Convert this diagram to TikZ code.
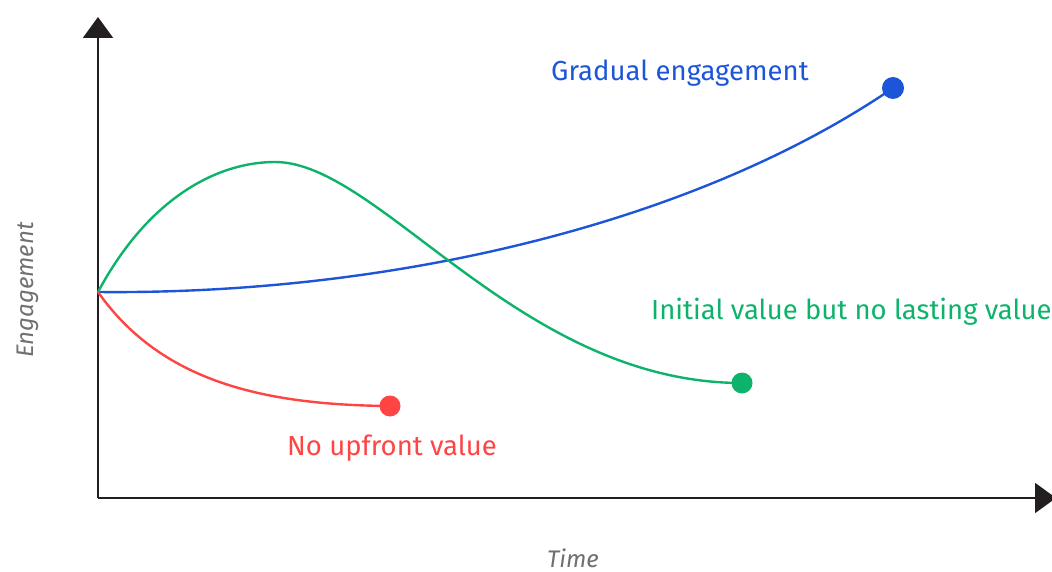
\documentclass[tikz,border=0pt]{standalone}
\usepackage{fontspec}
\setmainfont{Fira Sans}
\usetikzlibrary{arrows.meta}
\definecolor{axisc}{HTML}{231F20}
\definecolor{bluec}{HTML}{1D55D9}
\definecolor{greenc}{HTML}{0DB36A}
\definecolor{redc}{HTML}{FF4444}
\definecolor{grayc}{HTML}{707070}
\begin{document}
\begin{tikzpicture}[x=1pt,y=-1pt,
  axis/.style={draw=axisc,line width=2.2pt,-{Triangle[width=30pt,length=21pt]}},
  curve/.style={line width=2.4pt},
  dot/.style={circle,inner sep=0pt,minimum size=#1},
  lbl/.style={font=\fontsize{27.5}{32}\selectfont,inner sep=0pt,anchor=base west},
  axlbl/.style={font=\fontsize{24}{28}\selectfont\itshape,text=grayc,inner sep=0pt,anchor=base}]
\useasboundingbox (0,0) rectangle (1052,572);
\coordinate (O) at (98,498);
\coordinate (Ytop) at (98,17);
\coordinate (Xend) at (1056,498);
\coordinate (S) at (98,292);
\draw[axis] (O) -- (Ytop);
\draw[axis] (O) -- (Xend);
\node[dot=22pt,fill=bluec] (bd) at (893,88) {};
\node[dot=21pt,fill=greenc] (gd) at (742,383) {};
\node[dot=21pt,fill=redc] (rd) at (390,406) {};
\draw[curve,bluec] (S) .. controls (400,295) and (700,220) .. (bd.center);
\coordinate (gp) at (275,162);
\draw[curve,greenc] (S) .. controls (150,195) and (220,162) .. (gp) .. controls (380,162) and (520,383) .. (gd.center);
\draw[curve,redc] (S) .. controls (160,380) and (260,405) .. (rd.center);
\node[lbl,text=bluec] (lb) at (551,81) {Gradual engagement};
\node[lbl,text=greenc] (lg) at (651,319) {Initial value but no lasting value};
\node[lbl,text=redc] (lr) at (287,455) {No upfront value};
\node[axlbl,rotate=90] (ly) at (33,290) {Engagement};
\node[axlbl] (lx) at (573,567) {Time};
\end{tikzpicture}
\end{document}
